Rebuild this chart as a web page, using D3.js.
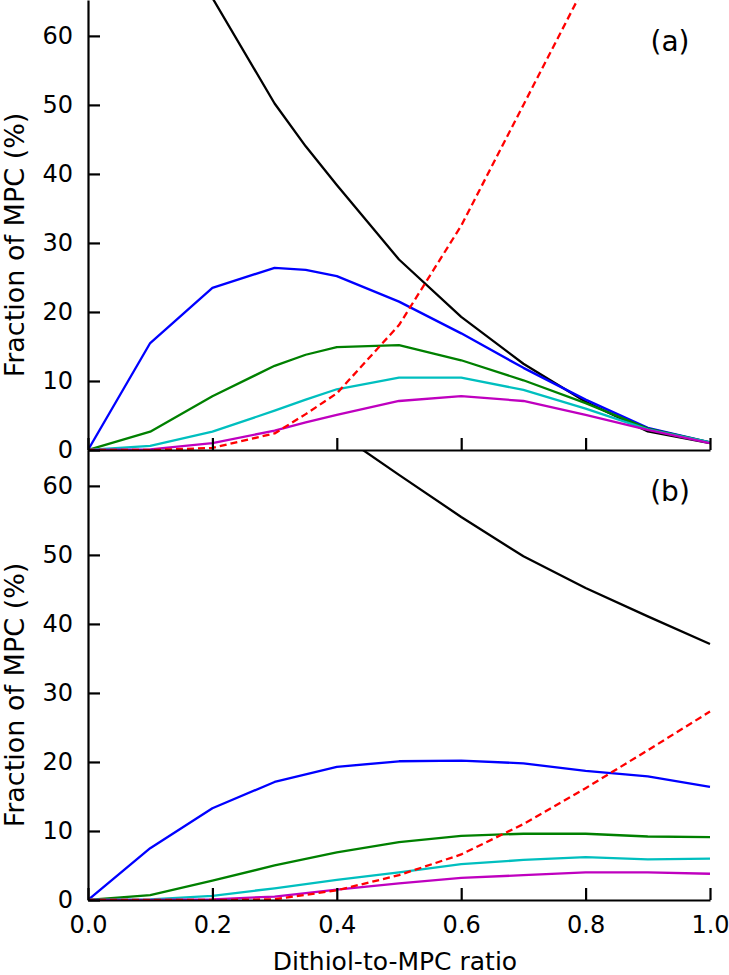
<!DOCTYPE html>
<html>
<head>
<meta charset="utf-8">
<script src="https://cdn.jsdelivr.net/npm/d3@7"></script>
<style>
  html, body { margin: 0; padding: 0; background: #fff; }
  svg { display: block; font-family: "DejaVu Sans", sans-serif; }
</style>
</head>
<body>
<svg id="chart" width="729" height="975"></svg>
<script>
// ---------- data ----------
const xA = [0, 0.1, 0.2, 0.3, 0.35, 0.4, 0.5, 0.6, 0.7, 0.8, 0.9, 1.0];
const blackA   = [null, null, 65.5, 50.2, 44.0, 38.4, 27.6, 19.3, 12.5, 7.0, 2.7, 1.0];
const blueA    = [0, 15.5, 23.5, 26.4, 26.1, 25.2, 21.5, 16.9, 11.9, 7.3, 3.2, 1.1];
const greenA   = [0, 2.65, 7.8, 12.2, 13.8, 14.9, 15.2, 13.0, 10.1, 6.8, 3.1, 1.1];
const cyanA    = [0, 0.6, 2.65, 5.7, 7.3, 8.8, 10.5, 10.5, 8.7, 6.0, 3.0, 1.1];
const magentaA = [0, 0.1, 1.0, 2.8, 4.0, 5.1, 7.1, 7.8, 7.1, 5.1, 2.9, 1.0];
const redA     = [0, 0.0, 0.3, 2.4, 5.2, 8.2, 18.1, 32.5, 50.0, 67.5, null, null];

const xB = [0, 0.1, 0.2, 0.3, 0.4, 0.5, 0.6, 0.7, 0.8, 0.9, 1.0];
const blackB   = [null, null, null, null, 67.8, 61.6, 55.5, 49.8, 45.2, 41.1, 37.1];
const blueB    = [0, 7.5, 13.3, 17.1, 19.3, 20.1, 20.2, 19.8, 18.7, 17.9, 16.4];
const greenB   = [0, 0.7, 2.8, 5.0, 6.9, 8.4, 9.3, 9.6, 9.6, 9.2, 9.1];
const cyanB    = [0, 0.1, 0.6, 1.7, 2.9, 4.0, 5.2, 5.8, 6.2, 5.9, 6.0];
const magentaB = [0, 0.0, 0.1, 0.5, 1.5, 2.4, 3.2, 3.6, 4.0, 4.0, 3.8];
const redB     = [0, 0, 0, 0.1, 1.4, 3.6, 6.6, 11.0, 16.2, 21.7, 27.3];

const xTicks = [0, 0.2, 0.4, 0.6, 0.8, 1.0];
const yTicks = [0, 10, 20, 30, 40, 50, 60];
const panelLabels = ["(a)", "(b)"];
const yLabel = "Fraction of MPC (%)";
const xLabel = "Dithiol-to-MPC ratio";

// ---------- layout ----------
const svg = d3.select("#chart");
const left = 88, right = 710;
const panels = [
  { top: 0,   bottom: 450, xs: xA, label: panelLabels[0], showX: false,
    series: [
      { v: blackA, c: "#000000" }, { v: blueA, c: "#0000ff" }, { v: greenA, c: "#008000" },
      { v: cyanA, c: "#00bfbf" }, { v: magentaA, c: "#bf00bf" }, { v: redA, c: "#ff0000", dash: true } ] },
  { top: 450, bottom: 900, xs: xB, label: panelLabels[1], showX: true,
    series: [
      { v: blackB, c: "#000000" }, { v: blueB, c: "#0000ff" }, { v: greenB, c: "#008000" },
      { v: cyanB, c: "#00bfbf" }, { v: magentaB, c: "#bf00bf" }, { v: redB, c: "#ff0000", dash: true } ] }
];

const x = d3.scaleLinear().domain([0, 1]).range([left, right]);

panels.forEach((p, i) => {
  const y = d3.scaleLinear().domain([0, 65.2]).range([p.bottom, p.top]);
  const clipId = "clip" + i;
  svg.append("clipPath").attr("id", clipId)
    .append("rect").attr("x", left).attr("y", p.top)
    .attr("width", right - left + 2).attr("height", p.bottom - p.top);

  const g = svg.append("g").attr("clip-path", `url(#${clipId})`);
  p.series.forEach(s => {
    const pts = p.xs.map((xv, k) => [xv, s.v[k]]);
    const line = d3.line()
      .defined(d => d[1] !== null)
      .x(d => x(d[0])).y(d => y(d[1]));
    g.append("path")
      .datum(pts)
      .attr("d", line)
      .attr("fill", "none")
      .attr("stroke", s.c)
      .attr("stroke-width", 2.3)
      .attr("stroke-linejoin", "round")
      .attr("stroke-dasharray", s.dash ? "7,4" : null);
  });

  // y axis
  const ya = svg.append("g").attr("transform", `translate(${left},0)`)
    .call(d3.axisLeft(y).tickValues(yTicks).tickFormat(d3.format("d"))
      .tickSizeInner(-12).tickSizeOuter(0).tickPadding(15));
  ya.select(".domain").attr("stroke-width", 2.2);
  ya.selectAll(".tick line").attr("stroke-width", 2.2);
  ya.selectAll(".tick text").attr("font-size", 24).attr("font-family", "DejaVu Sans").attr("fill", "#000");

  // x axis
  const xa = svg.append("g").attr("transform", `translate(0,${p.bottom})`)
    .call(d3.axisBottom(x).tickValues(xTicks)
      .tickFormat(p.showX ? d3.format(".1f") : () => "")
      .tickSizeInner(-12).tickSizeOuter(0).tickPadding(16));
  xa.select(".domain").attr("stroke-width", 2.2);
  xa.selectAll(".tick line").attr("stroke-width", 2.2);
  xa.selectAll(".tick text").attr("font-size", 24).attr("font-family", "DejaVu Sans").attr("fill", "#000");

  // panel label
  svg.append("text").attr("x", 670).attr("y", p.top + 51)
    .attr("text-anchor", "middle").attr("font-size", 28).text(p.label);

  // y label
  const cy = (p.top + p.bottom) / 2 + 20;
  svg.append("text")
    .attr("transform", `translate(24,${cy}) rotate(-90)`)
    .attr("text-anchor", "middle").attr("font-size", 27).text(yLabel);
});

svg.append("text").attr("x", (left + right) / 2 - 4).attr("y", 970)
  .attr("text-anchor", "middle").attr("font-size", 25).text(xLabel);
</script>
</body>
</html>
